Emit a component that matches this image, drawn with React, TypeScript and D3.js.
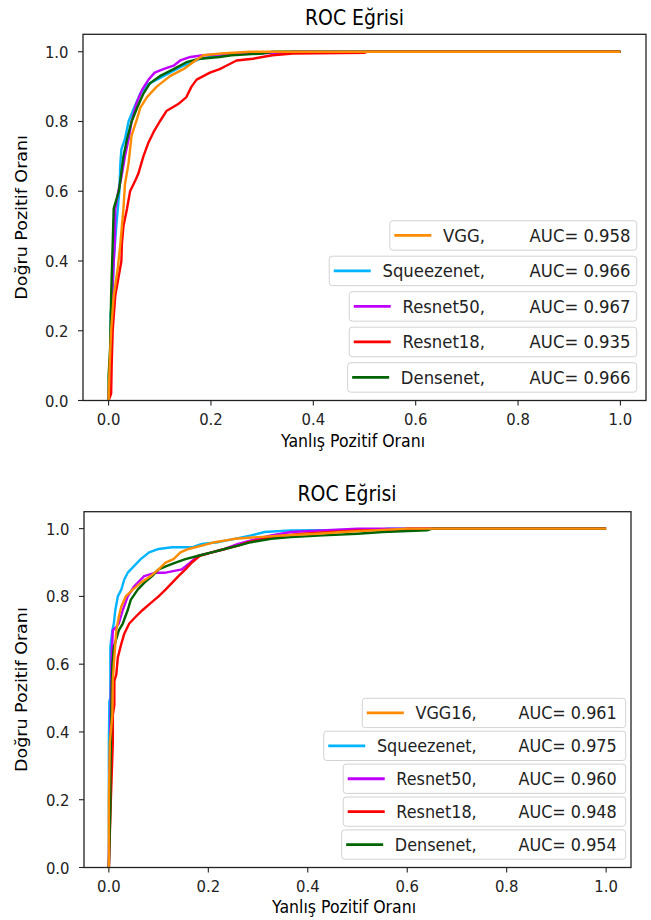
import React from "react";
import * as d3 from "d3";

type Pt = [number, number];

// ---------- Data: top chart ----------
const topVGG: Pt[] = [[0,0],[0.002,0.1],[0.005,0.2],[0.01,0.3],[0.018,0.38],[0.023,0.45],[0.029,0.55],[0.032,0.62],[0.039,0.68],[0.042,0.72],[0.045,0.76],[0.054,0.8],[0.062,0.84],[0.075,0.87],[0.094,0.9],[0.12,0.93],[0.146,0.95],[0.165,0.97],[0.185,0.99],[0.22,0.995],[0.276,1.0],[1.0,1.0]];
const topSqueeze: Pt[] = [[0,0],[0.004,0.06],[0.004,0.25],[0.008,0.3],[0.01,0.4],[0.015,0.5],[0.021,0.6],[0.023,0.68],[0.025,0.72],[0.032,0.75],[0.039,0.8],[0.05,0.84],[0.062,0.88],[0.075,0.905],[0.094,0.92],[0.12,0.94],[0.146,0.96],[0.18,0.98],[0.22,0.99],[0.27,0.997],[0.35,1.0],[1,1]];
const topResnet50: Pt[] = [[0,0],[0.003,0.12],[0.006,0.18],[0.006,0.28],[0.009,0.37],[0.012,0.45],[0.013,0.55],[0.019,0.6],[0.025,0.64],[0.032,0.7],[0.039,0.75],[0.045,0.8],[0.054,0.85],[0.065,0.89],[0.078,0.92],[0.09,0.94],[0.107,0.95],[0.127,0.96],[0.14,0.975],[0.16,0.985],[0.185,0.99],[0.256,0.995],[0.35,0.997],[0.36,1],[1,1]];
const topResnet18: Pt[] = [[0,0],[0.005,0.02],[0.006,0.1],[0.008,0.2],[0.013,0.3],[0.019,0.35],[0.025,0.4],[0.026,0.45],[0.029,0.5],[0.036,0.55],[0.042,0.6],[0.052,0.63],[0.058,0.65],[0.068,0.7],[0.078,0.74],[0.088,0.77],[0.1,0.8],[0.113,0.83],[0.136,0.85],[0.152,0.87],[0.162,0.9],[0.172,0.92],[0.198,0.94],[0.217,0.95],[0.23,0.96],[0.25,0.975],[0.282,0.98],[0.32,0.99],[0.36,0.995],[0.5,0.997],[0.505,1],[1,1]];
const topDensenet: Pt[] = [[0,0],[0,0.07],[0.003,0.15],[0.005,0.3],[0.007,0.4],[0.01,0.55],[0.02,0.6],[0.022,0.62],[0.029,0.7],[0.036,0.75],[0.045,0.8],[0.056,0.84],[0.068,0.88],[0.081,0.91],[0.1,0.93],[0.127,0.95],[0.152,0.97],[0.178,0.98],[0.217,0.985],[0.24,0.99],[0.3,0.995],[0.32,1],[1,1]];

// ---------- Data: bottom chart ----------
const botVGG16: Pt[] = [[0,0],[0,0.2],[0.002,0.37],[0.007,0.45],[0.008,0.55],[0.01,0.6],[0.015,0.7],[0.02,0.74],[0.025,0.77],[0.034,0.8],[0.048,0.82],[0.064,0.84],[0.084,0.86],[0.1,0.88],[0.114,0.9],[0.13,0.91],[0.144,0.93],[0.16,0.94],[0.187,0.95],[0.213,0.96],[0.253,0.97],[0.3,0.975],[0.352,0.98],[0.42,0.985],[0.47,0.99],[0.53,0.995],[0.6,1],[1,1]];
const botSqueeze: Pt[] = [[0,0],[0,0.28],[0,0.37],[0.001,0.49],[0.003,0.5],[0.003,0.65],[0.007,0.7],[0.01,0.72],[0.013,0.76],[0.018,0.8],[0.025,0.82],[0.031,0.85],[0.038,0.87],[0.051,0.89],[0.064,0.91],[0.081,0.93],[0.1,0.94],[0.127,0.945],[0.167,0.945],[0.187,0.955],[0.22,0.96],[0.253,0.97],[0.286,0.98],[0.313,0.99],[0.366,0.995],[0.55,0.997],[0.56,1],[1,1]];
const botResnet50: Pt[] = [[0,0],[0.002,0.3],[0.004,0.5],[0.005,0.6],[0.008,0.7],[0.015,0.71],[0.02,0.72],[0.028,0.76],[0.038,0.8],[0.051,0.83],[0.071,0.86],[0.094,0.87],[0.114,0.87],[0.147,0.88],[0.164,0.9],[0.18,0.92],[0.207,0.93],[0.233,0.94],[0.26,0.955],[0.286,0.965],[0.326,0.98],[0.366,0.99],[0.43,0.995],[0.5,1],[1,1]];
const botResnet18: Pt[] = [[0,0],[0.004,0.2],[0.008,0.37],[0.008,0.45],[0.011,0.48],[0.011,0.55],[0.015,0.57],[0.018,0.62],[0.025,0.66],[0.031,0.69],[0.041,0.72],[0.054,0.74],[0.068,0.76],[0.084,0.78],[0.1,0.8],[0.114,0.82],[0.127,0.84],[0.14,0.86],[0.154,0.88],[0.167,0.9],[0.183,0.92],[0.207,0.93],[0.233,0.94],[0.26,0.95],[0.28,0.96],[0.313,0.97],[0.352,0.98],[0.392,0.985],[0.445,0.99],[0.5,0.995],[0.59,0.997],[0.6,1],[1,1]];
const botDensenet: Pt[] = [[0,0],[0.003,0.18],[0.003,0.28],[0.005,0.45],[0.006,0.55],[0.007,0.6],[0.01,0.65],[0.02,0.7],[0.028,0.72],[0.033,0.74],[0.038,0.76],[0.044,0.79],[0.058,0.82],[0.071,0.84],[0.087,0.86],[0.1,0.88],[0.117,0.89],[0.134,0.9],[0.154,0.91],[0.18,0.92],[0.207,0.93],[0.233,0.94],[0.26,0.95],[0.286,0.96],[0.326,0.97],[0.366,0.975],[0.43,0.98],[0.5,0.985],[0.55,0.99],[0.64,0.995],[0.65,1],[1,1]];

const topNames = ["VGG,", "Squeezenet,", "Resnet50,", "Resnet18,", "Densenet,"];
const topAUC = ["0.958", "0.966", "0.967", "0.935", "0.966"];
const botNames = ["VGG16,", "Squeezenet,", "Resnet50,", "Resnet18,", "Densenet,"];
const botAUC = ["0.961", "0.975", "0.960", "0.948", "0.954"];
const seriesColors = ["#ff8c00", "#00b4ff", "#c000ff", "#ff0000", "#006400"];
const tickValues = [0, 0.2, 0.4, 0.6, 0.8, 1.0];
const titleText = "ROC Eğrisi";
const xLabelText = "Yanlış Pozitif Oranı";
const yLabelText = "Doğru Pozitif Oranı";

const SX = 0.9; // horizontal squeeze of the reference
const FONT = "DejaVu Sans";

function textWidth(t: string, size: number): number {
  const c = document.createElement("canvas");
  const ctx = c.getContext("2d")!;
  ctx.font = `${size}px "${FONT}"`;
  return ctx.measureText(t).width * SX;
}

type Cfg = {
  x0: number; x1: number; yB: number; yT: number;
  titleX: number; titleY: number; xlabX: number; xlabY: number; ylabX: number;
  legTop: number; legStep: number; legH: number; boxRight: number; aucEnd: number; nameEnd: number; legFont: number;
};

function HText(props: { x: number; y: number; size: number; anchor?: string; children: string; fill?: string }) {
  return (
    <text transform={`translate(${props.x},${props.y}) scale(${SX},1)`} fontSize={props.size}
      fontFamily={FONT} textAnchor={props.anchor || "start"} fill={props.fill || "#000"}>{props.children}</text>
  );
}

function Chart({ cfg, curves, names, aucs }: { cfg: Cfg; curves: Pt[][]; names: string[]; aucs: string[] }) {
  const x = d3.scaleLinear().domain([-0.05, 1.05]).range([cfg.x0, cfg.x1]);
  const y = d3.scaleLinear().domain([0, 1.05]).range([cfg.yB, cfg.yT]);
  const line = d3.line<Pt>().x(d => x(d[0])).y(d => y(d[1]));
  const order = [1, 2, 3, 4, 0];
  const tickFont = 16.5;
  return (
    <g>
      <HText x={cfg.titleX} y={cfg.titleY} size={21} anchor="middle">{titleText}</HText>
      {order.map(i => (
        <path key={i} d={line(curves[i]) || ""} fill="none" stroke={seriesColors[i]} strokeWidth={2.4} strokeLinejoin="round" />
      ))}
      {tickValues.map(t => (
        <g key={"x" + t}>
          <line x1={x(t)} x2={x(t)} y1={cfg.yB} y2={cfg.yB + 5} stroke="#222" strokeWidth={1.1} />
          <HText x={x(t)} y={cfg.yB + 24.5} size={tickFont} anchor="middle" fill="#222">{d3.format(".1f")(t)}</HText>
        </g>
      ))}
      {tickValues.map(t => (
        <g key={"y" + t}>
          <line x1={cfg.x0 - 5} x2={cfg.x0} y1={y(t)} y2={y(t)} stroke="#222" strokeWidth={1.1} />
          <HText x={cfg.x0 - 14.5} y={y(t) + 6} size={tickFont} anchor="end" fill="#222">{d3.format(".1f")(t)}</HText>
        </g>
      ))}
      <rect x={cfg.x0} y={cfg.yT} width={cfg.x1 - cfg.x0} height={cfg.yB - cfg.yT} fill="none" stroke="#222" strokeWidth={1.3} />
      <HText x={cfg.xlabX} y={cfg.xlabY} size={17.5} anchor="middle">{xLabelText}</HText>
      <text transform={`translate(${cfg.ylabX},${(cfg.yB + cfg.yT) / 2}) rotate(-90) scale(1,${SX})`} fontSize={17.5}
        fontFamily={FONT} textAnchor="middle">{yLabelText}</text>
      {names.map((n, i) => {
        const top = cfg.legTop + i * cfg.legStep;
        const cy = top + cfg.legH / 2;
        const nw = textWidth(n, cfg.legFont);
        const lineEnd = cfg.nameEnd - nw - 11.7;
        const lineStart = lineEnd - 37;
        const boxLeft = lineStart - 4.5;
        return (
          <g key={"leg" + i}>
            <rect x={boxLeft} y={top} width={cfg.boxRight - boxLeft} height={cfg.legH} rx={3} fill="#fff" fillOpacity={0.85} stroke="#d2d2d2" strokeWidth={1} />
            <line x1={lineStart} x2={lineEnd} y1={cy} y2={cy} stroke={seriesColors[i]} strokeWidth={2.8} />
            <HText x={cfg.nameEnd} y={cy + 6.3} size={cfg.legFont} anchor="end" fill="#222">{n}</HText>
            <HText x={cfg.aucEnd} y={cy + 6.3} size={cfg.legFont} anchor="end" fill="#222">{"AUC= " + aucs[i]}</HText>
          </g>
        );
      })}
    </g>
  );
}

const topCfg: Cfg = { x0: 83, x1: 646, yB: 400.5, yT: 34.3, titleX: 354.5, titleY: 25, xlabX: 353, xlabY: 447, ylabX: 27,
  legTop: 220.7, legStep: 35.5, legH: 29.5, boxRight: 636.7, aucEnd: 630.5, nameEnd: 485, legFont: 18.3 };
const botCfg: Cfg = { x0: 84, x1: 631, yB: 867.5, yT: 511.7, titleX: 347, titleY: 501, xlabX: 344, xlabY: 913, ylabX: 27,
  legTop: 698.3, legStep: 32.9, legH: 29.3, boxRight: 625.7, aucEnd: 616.7, nameEnd: 476.7, legFont: 17.8 };

export default function App() {
  return (
    <svg width={651} height={920} style={{ position: "absolute", left: 0, top: 0, background: "#fff" }}>
      <rect width={651} height={920} fill="#fff" />
      <Chart cfg={topCfg} curves={[topVGG, topSqueeze, topResnet50, topResnet18, topDensenet]} names={topNames} aucs={topAUC} />
      <Chart cfg={botCfg} curves={[botVGG16, botSqueeze, botResnet50, botResnet18, botDensenet]} names={botNames} aucs={botAUC} />
    </svg>
  );
}
